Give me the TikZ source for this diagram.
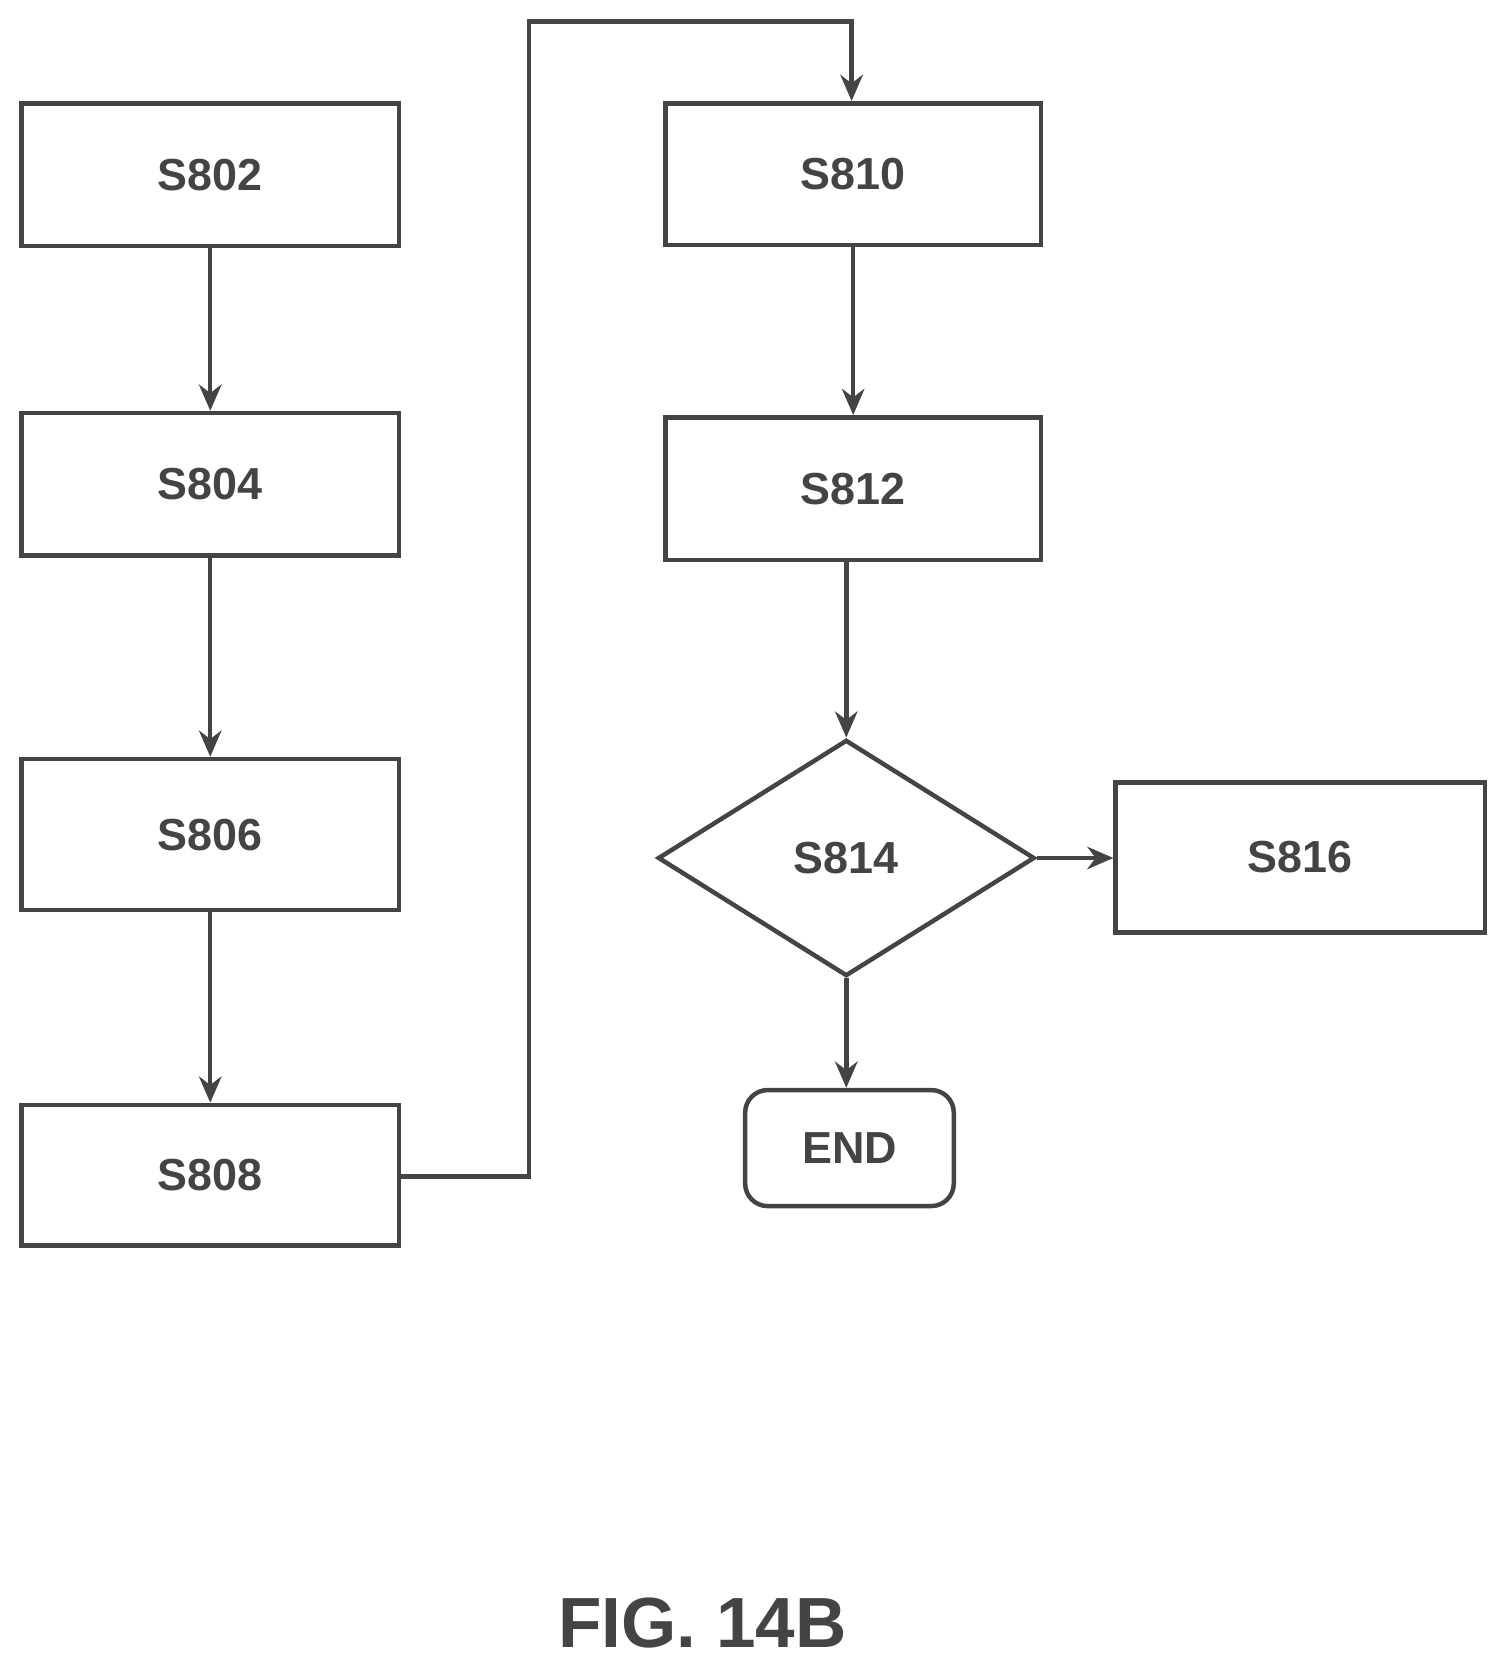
\documentclass[tikz,border=0pt]{standalone}
\usepackage{fontspec}
\setmainfont{Liberation Sans}
\usetikzlibrary{shapes.geometric,arrows.meta}
\definecolor{ink}{HTML}{444444}
\begin{document}
\begin{tikzpicture}[x=0.02cm,y=-0.02cm,
  box/.style={draw=ink,line width=2.4pt,minimum width=7.1cm,minimum height=2.68cm,font=\fontsize{24}{28}\selectfont\bfseries,text=ink},
  arr/.style={draw=ink,line width=2.4pt,-{Stealth[length=14pt,width=12pt]}},
  ln/.style={draw=ink,line width=2.4pt}]
\useasboundingbox (0,0) rectangle (1414,1566);
\node[box] (s802) at (197.5,164) {S802};
\node[box] (s804) at (197.5,455) {S804};
\node[box,minimum height=2.84cm] (s806) at (197.5,784) {S806};
\node[box,minimum height=2.64cm] (s808) at (197.5,1104) {S808};
\node[box,minimum width=7.06cm,minimum height=2.66cm] (s810) at (801.5,163.5) {S810};
\node[box,minimum width=7.06cm] (s812) at (801.5,459) {S812};
\node[box,diamond,aspect=1.6,inner sep=0pt,minimum width=7.08cm,minimum height=4.44cm] (s814) at (795,806) {S814};
\node[box,minimum width=6.94cm,minimum height=2.82cm] (s816) at (1221.5,805.5) {S816};
\node[box,rounded corners=12pt,minimum width=3.92cm,minimum height=2.18cm] (end) at (798,1078.5) {END};
\node[font=\fontsize{38}{44}\selectfont\bfseries,text=ink] (fig) at (660,1525) {FIG. 14B};
\draw[arr] (s802) -- (s804);
\draw[arr] (s804) -- (s806);
\draw[arr] (s806) -- (s808);
\coordinate (c1) at (497,1105);
\coordinate (c2) at (497,20);
\coordinate (c3) at (800,20);
\draw[arr] (s808.east |- c1) -- (c1) -- (c2) -- (c3) -- (s810.north -| c3);
\draw[arr] (s810) -- (s812);
\draw[arr] (s812.south -| s814.north) -- (s814.north);
\draw[arr] (s814.east) -- (s816.west |- s814.east);
\draw[arr] (s814.south) -- (end.north -| s814.south);
\end{tikzpicture}
\end{document}
